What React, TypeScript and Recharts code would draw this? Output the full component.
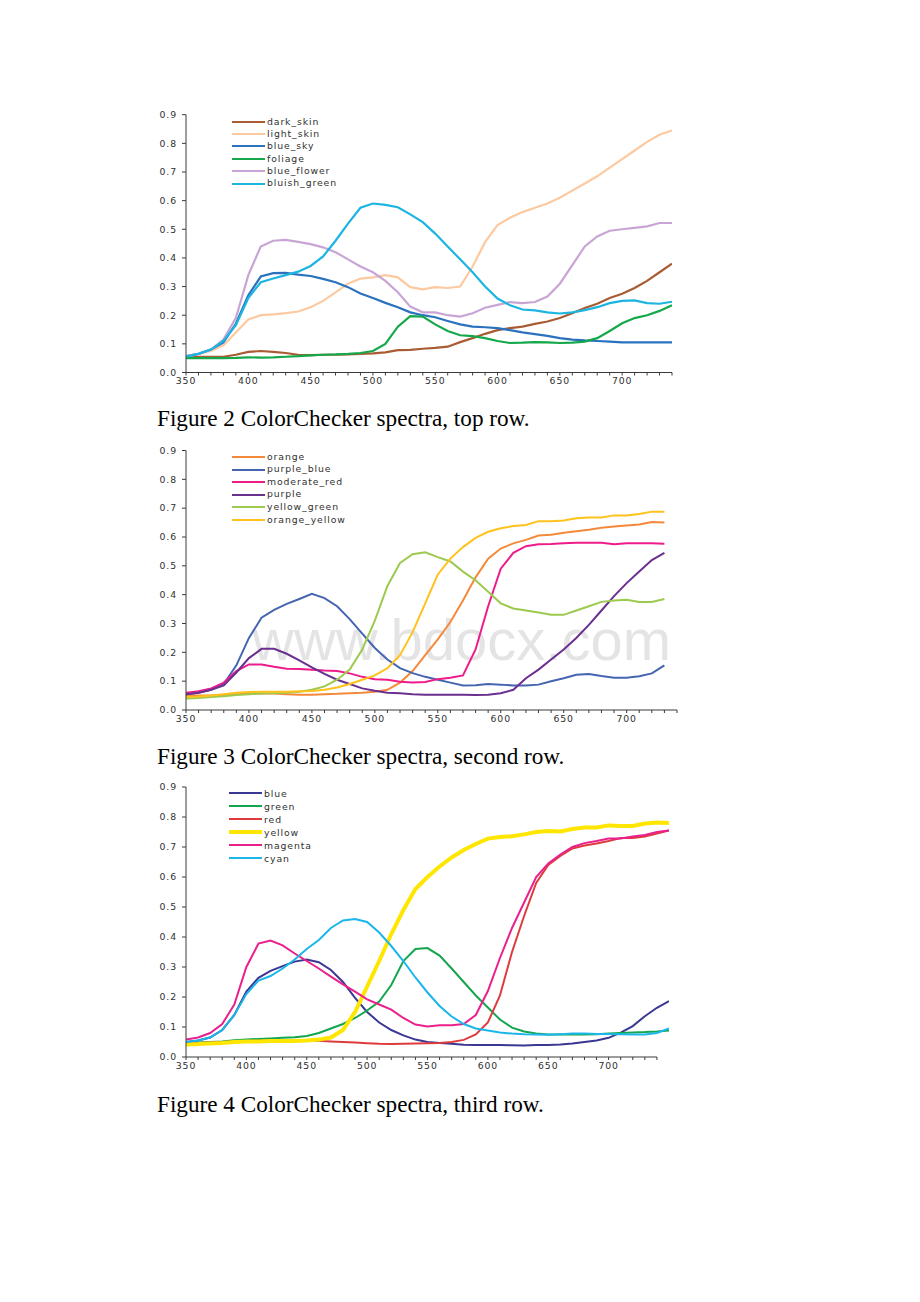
import React from 'react';
import { LineChart, Line, XAxis, YAxis, Legend, ReferenceLine } from 'recharts';

// Wavelengths (nm)
const WAVELENGTHS = [350, 360, 370, 380, 390, 400, 410, 420, 430, 440, 450, 460, 470, 480, 490, 500, 510, 520, 530, 540, 550, 560, 570, 580, 590, 600, 610, 620, 630, 640, 650, 660, 670, 680, 690, 700, 710, 720, 730, 740, 750];
const X_TICKS = [350, 360, 370, 380, 390, 400, 410, 420, 430, 440, 450, 460, 470, 480, 490, 500, 510, 520, 530, 540, 550, 560, 570, 580, 590, 600, 610, 620, 630, 640, 650, 660, 670, 680, 690, 700, 710, 720, 730, 740];
const Y_TICKS = [0, 0.1, 0.2, 0.3, 0.4, 0.5, 0.6, 0.7, 0.8, 0.9];

// Figure 2 – top row (350..740)
const darkSkin = [0.055, 0.055, 0.055, 0.055, 0.062, 0.072, 0.075, 0.072, 0.068, 0.062, 0.061, 0.062, 0.062, 0.063, 0.065, 0.067, 0.07, 0.078, 0.079, 0.083, 0.086, 0.09, 0.106, 0.12, 0.135, 0.148, 0.155, 0.16, 0.17, 0.178, 0.19, 0.207, 0.225, 0.24, 0.26, 0.275, 0.295, 0.32, 0.35, 0.38];
const lightSkin = [0.055, 0.065, 0.075, 0.095, 0.14, 0.185, 0.2, 0.203, 0.207, 0.213, 0.228, 0.25, 0.28, 0.31, 0.328, 0.332, 0.34, 0.332, 0.298, 0.29, 0.298, 0.295, 0.3, 0.37, 0.455, 0.515, 0.54, 0.56, 0.575, 0.59, 0.61, 0.635, 0.66, 0.685, 0.715, 0.745, 0.775, 0.805, 0.83, 0.845];
const blueSky = [0.057, 0.065, 0.08, 0.105, 0.17, 0.27, 0.335, 0.347, 0.348, 0.342, 0.337, 0.327, 0.315, 0.298, 0.276, 0.26, 0.243, 0.228, 0.21, 0.2, 0.193, 0.18, 0.168, 0.16, 0.158, 0.155, 0.148, 0.14, 0.134, 0.128, 0.12, 0.115, 0.112, 0.11, 0.108, 0.105, 0.105, 0.105, 0.105, 0.105];
const foliage = [0.05, 0.05, 0.05, 0.05, 0.051, 0.053, 0.052, 0.053, 0.055, 0.057, 0.06, 0.062, 0.063, 0.065, 0.068, 0.075, 0.1, 0.16, 0.197, 0.195, 0.168, 0.145, 0.13, 0.127, 0.12, 0.11, 0.103, 0.104, 0.106, 0.105, 0.103, 0.104, 0.108, 0.12, 0.145, 0.172, 0.19, 0.2, 0.215, 0.235];
const blueFlower = [0.057, 0.065, 0.08, 0.115, 0.19, 0.34, 0.44, 0.46, 0.463, 0.456, 0.448, 0.437, 0.42, 0.395, 0.37, 0.35, 0.32, 0.28, 0.23, 0.21, 0.21, 0.2, 0.195, 0.207, 0.226, 0.236, 0.246, 0.242, 0.246, 0.265, 0.31, 0.375, 0.44, 0.475, 0.495, 0.5, 0.505, 0.51, 0.522, 0.522];
const bluishGreen = [0.055, 0.065, 0.08, 0.11, 0.165, 0.26, 0.315, 0.328, 0.34, 0.352, 0.372, 0.405, 0.46, 0.52, 0.575, 0.59, 0.585, 0.577, 0.552, 0.525, 0.485, 0.44, 0.395, 0.35, 0.3, 0.258, 0.235, 0.22, 0.217, 0.21, 0.206, 0.21, 0.218, 0.228, 0.242, 0.25, 0.252, 0.242, 0.24, 0.247];

// Figure 3 – second row (350..730)
const orange = [0.05, 0.05, 0.05, 0.052, 0.055, 0.057, 0.057, 0.057, 0.055, 0.053, 0.053, 0.055, 0.056, 0.058, 0.06, 0.063, 0.07, 0.095, 0.135, 0.19, 0.245, 0.305, 0.38, 0.46, 0.525, 0.56, 0.578, 0.59, 0.605, 0.608, 0.615, 0.62, 0.625, 0.632, 0.636, 0.64, 0.643, 0.652, 0.65];
const purpleBlue = [0.055, 0.06, 0.07, 0.09, 0.155, 0.25, 0.32, 0.347, 0.368, 0.385, 0.403, 0.388, 0.36, 0.315, 0.265, 0.215, 0.175, 0.145, 0.128, 0.115, 0.105, 0.095, 0.085, 0.086, 0.09, 0.088, 0.085, 0.085, 0.088, 0.1, 0.11, 0.122, 0.125, 0.118, 0.112, 0.112, 0.117, 0.127, 0.155];
const moderateRed = [0.06, 0.065, 0.075, 0.095, 0.135, 0.158, 0.158, 0.15, 0.143, 0.142, 0.14, 0.137, 0.135, 0.127, 0.115, 0.107, 0.105, 0.098, 0.095, 0.097, 0.107, 0.112, 0.12, 0.21, 0.36, 0.49, 0.545, 0.568, 0.575, 0.576, 0.578, 0.58, 0.58, 0.58, 0.575, 0.578, 0.578, 0.578, 0.577];
const purple = [0.055, 0.06, 0.07, 0.085, 0.13, 0.18, 0.212, 0.212, 0.195, 0.172, 0.148, 0.125, 0.105, 0.09, 0.075, 0.067, 0.06, 0.058, 0.055, 0.053, 0.053, 0.053, 0.053, 0.052, 0.053, 0.058, 0.07, 0.11, 0.14, 0.175, 0.21, 0.25, 0.295, 0.345, 0.395, 0.44, 0.48, 0.52, 0.545];
const yellowGreen = [0.04, 0.042, 0.045, 0.048, 0.052, 0.055, 0.057, 0.058, 0.06, 0.063, 0.07, 0.082, 0.105, 0.14, 0.21, 0.31, 0.43, 0.51, 0.54, 0.547, 0.53, 0.515, 0.48, 0.45, 0.41, 0.37, 0.352, 0.345, 0.338, 0.33, 0.33, 0.345, 0.36, 0.375, 0.38, 0.382, 0.375, 0.375, 0.385];
const orangeYellow = [0.045, 0.047, 0.05, 0.055, 0.06, 0.062, 0.063, 0.063, 0.063, 0.065, 0.066, 0.07, 0.078, 0.09, 0.105, 0.12, 0.145, 0.19, 0.27, 0.37, 0.47, 0.525, 0.565, 0.597, 0.618, 0.63, 0.638, 0.642, 0.655, 0.655, 0.657, 0.665, 0.668, 0.668, 0.675, 0.675, 0.68, 0.688, 0.688];

// Figure 4 – third row (350..750)
const blue = [0.05, 0.055, 0.065, 0.09, 0.14, 0.218, 0.264, 0.287, 0.303, 0.318, 0.325, 0.316, 0.29, 0.25, 0.197, 0.15, 0.115, 0.09, 0.072, 0.058, 0.05, 0.047, 0.044, 0.041, 0.04, 0.04, 0.04, 0.039, 0.038, 0.04, 0.04, 0.042, 0.045, 0.05, 0.055, 0.064, 0.081, 0.103, 0.136, 0.164, 0.186];
const green = [0.045, 0.048, 0.05, 0.052, 0.056, 0.058, 0.06, 0.062, 0.064, 0.066, 0.07, 0.08, 0.095, 0.11, 0.13, 0.155, 0.185, 0.24, 0.32, 0.36, 0.363, 0.338, 0.295, 0.25, 0.205, 0.165, 0.125, 0.098, 0.085, 0.078, 0.075, 0.075, 0.075, 0.075, 0.076, 0.078, 0.08, 0.082, 0.083, 0.085, 0.088];
const red = [0.045, 0.047, 0.048, 0.05, 0.052, 0.053, 0.054, 0.055, 0.055, 0.055, 0.055, 0.054, 0.052, 0.05, 0.048, 0.046, 0.044, 0.043, 0.044, 0.045, 0.046, 0.047, 0.05, 0.057, 0.075, 0.115, 0.205, 0.35, 0.47, 0.58, 0.64, 0.67, 0.695, 0.705, 0.712, 0.72, 0.73, 0.73, 0.735, 0.745, 0.755];
const yellow = [0.042, 0.043, 0.045, 0.047, 0.05, 0.052, 0.052, 0.053, 0.053, 0.053, 0.055, 0.058, 0.065, 0.09, 0.15, 0.235, 0.32, 0.41, 0.49, 0.56, 0.6, 0.635, 0.665, 0.69, 0.71, 0.728, 0.733, 0.736, 0.742, 0.75, 0.753, 0.752, 0.76, 0.765, 0.765, 0.772, 0.77, 0.77, 0.778, 0.782, 0.78];
const magenta = [0.058, 0.065, 0.08, 0.11, 0.175, 0.3, 0.378, 0.388, 0.372, 0.345, 0.32, 0.295, 0.268, 0.242, 0.218, 0.192, 0.175, 0.158, 0.13, 0.108, 0.102, 0.106, 0.106, 0.11, 0.14, 0.22, 0.33, 0.43, 0.515, 0.6, 0.645, 0.675, 0.7, 0.713, 0.72, 0.728, 0.728, 0.735, 0.74, 0.75, 0.755];
const cyan = [0.05, 0.055, 0.065, 0.09, 0.14, 0.21, 0.255, 0.27, 0.295, 0.325, 0.36, 0.39, 0.43, 0.455, 0.46, 0.45, 0.415, 0.37, 0.32, 0.265, 0.215, 0.17, 0.135, 0.11, 0.095, 0.088, 0.082, 0.078, 0.076, 0.075, 0.074, 0.076, 0.078, 0.078, 0.077, 0.077, 0.076, 0.075, 0.075, 0.08, 0.095];

type Series = { key: string; name: string; values: number[]; color: string; width: number };

const SERIES_1: Series[] = [
  { key: 'dark_skin', name: 'dark_skin', values: darkSkin, color: '#a95c34', width: 2.2 },
  { key: 'light_skin', name: 'light_skin', values: lightSkin, color: '#fcc9a0', width: 2.2 },
  { key: 'blue_sky', name: 'blue_sky', values: blueSky, color: '#2a72bd', width: 2.2 },
  { key: 'foliage', name: 'foliage', values: foliage, color: '#14a84a', width: 2.2 },
  { key: 'blue_flower', name: 'blue_flower', values: blueFlower, color: '#c9a5d5', width: 2.2 },
  { key: 'bluish_green', name: 'bluish_green', values: bluishGreen, color: '#1cb5e2', width: 2.2 },
];
const SERIES_2: Series[] = [
  { key: 'orange', name: 'orange', values: orange, color: '#f5893b', width: 2 },
  { key: 'purple_blue', name: 'purple_blue', values: purpleBlue, color: '#4565b1', width: 2 },
  { key: 'moderate_red', name: 'moderate_red', values: moderateRed, color: '#ee1b8b', width: 2 },
  { key: 'purple', name: 'purple', values: purple, color: '#6a2f8f', width: 2 },
  { key: 'yellow_green', name: 'yellow_green', values: yellowGreen, color: '#9dca4e', width: 2 },
  { key: 'orange_yellow', name: 'orange_yellow', values: orangeYellow, color: '#ffc21c', width: 2 },
];
const SERIES_3: Series[] = [
  { key: 'blue', name: 'blue', values: blue, color: '#3a3893', width: 2 },
  { key: 'green', name: 'green', values: green, color: '#14a64f', width: 2 },
  { key: 'red', name: 'red', values: red, color: '#df3b3f', width: 2 },
  { key: 'yellow', name: 'yellow', values: yellow, color: '#ffe600', width: 4 },
  { key: 'magenta', name: 'magenta', values: magenta, color: '#ea208c', width: 2 },
  { key: 'cyan', name: 'cyan', values: cyan, color: '#1bb6ea', width: 2 },
];

const CAPTIONS = [
  'Figure 2 ColorChecker spectra, top row.',
  'Figure 3 ColorChecker spectra, second row.',
  'Figure 4 ColorChecker spectra, third row.',
];

const buildRows = (series: Series[], count: number) =>
  WAVELENGTHS.slice(0, count).map((w, i) => {
    const row: Record<string, number> = { w };
    series.forEach((s) => {
      row[s.key] = s.values[i];
    });
    return row;
  });

const TICK_FONT = { fontFamily: 'DejaVu Sans', fontSize: 9.3, fill: '#303030', letterSpacing: 0.9 };
const AXIS_COLOR = '#3a3a3a';
const WRAP_LEFT = 100;
const WRAP_W = 720;

type ChartProps = {
  series: Series[];
  count: number;
  top: number;
  height: number;
  plotTop: number;
  plotBottom: number;
  plotRight: number;
  xMax: number;
  axisEnd: number;
  legendTop: number;
  legendLeft: number;
  rowH: number;
};

function SpectrumChart(p: ChartProps) {
  const data = buildRows(p.series, p.count);
  const margin = {
    top: p.plotTop - p.top,
    right: WRAP_LEFT + WRAP_W - p.plotRight,
    bottom: p.top + p.height - p.plotBottom - 20,
    left: 46,
  };
  const legendContent = () => (
    <div style={{ display: 'flex', flexDirection: 'column' }}>
      {p.series.map((s) => (
        <div key={s.key} style={{ display: 'flex', alignItems: 'center', height: p.rowH }}>
          <svg width={33} height={6} style={{ display: 'block' }}>
            <line x1={0} y1={3} x2={33} y2={3} stroke={s.color} strokeWidth={s.width} />
          </svg>
          <span
            style={{
              marginLeft: 2,
              fontFamily: 'DejaVu Sans',
              fontSize: 9.3,
              letterSpacing: 0.9,
              color: '#303030',
              lineHeight: `${p.rowH}px`,
              whiteSpace: 'nowrap',
            }}
          >
            {s.name}
          </span>
        </div>
      ))}
    </div>
  );
  return (
    <div style={{ position: 'absolute', left: WRAP_LEFT, top: p.top, width: WRAP_W, height: p.height, zIndex: 1 }}>
      <LineChart width={WRAP_W} height={p.height} data={data} margin={margin}>
        <XAxis
          dataKey="w"
          type="number"
          domain={[350, p.xMax]}
          ticks={X_TICKS}
          interval={0}
          tickFormatter={(v: number) => (v % 50 === 0 ? String(v) : '')}
          tick={TICK_FONT}
          tickSize={3}
          tickMargin={2}
          tickLine={{ stroke: AXIS_COLOR }}
          axisLine={false}
          height={20}
          allowDataOverflow
        />
        <YAxis
          type="number"
          domain={[0, 0.9]}
          ticks={Y_TICKS}
          interval={0}
          tickFormatter={(v: number) => v.toFixed(1)}
          tick={TICK_FONT}
          tickSize={4}
          tickMargin={5}
          tickLine={{ stroke: AXIS_COLOR }}
          axisLine={{ stroke: AXIS_COLOR }}
          width={40}
        />
        <ReferenceLine
          segment={[
            { x: 350, y: 0 },
            { x: p.axisEnd, y: 0 },
          ]}
          stroke={AXIS_COLOR}
          strokeWidth={1}
          ifOverflow="visible"
        />
        <Legend
          layout="vertical"
          align="center"
          verticalAlign="middle"
          content={legendContent}
          wrapperStyle={{ left: p.legendLeft - WRAP_LEFT, top: p.legendTop - p.top, width: 'auto', height: 'auto' }}
        />
        {p.series.map((s) => (
          <Line
            key={s.key}
            type="linear"
            dataKey={s.key}
            name={s.name}
            stroke={s.color}
            strokeWidth={s.width}
            dot={false}
            activeDot={false}
            isAnimationActive={false}
          />
        ))}
      </LineChart>
    </div>
  );
}

const captionStyle = (top: number): React.CSSProperties => ({
  position: 'absolute',
  left: 157,
  top,
  fontFamily: '"Liberation Serif", "Times New Roman", serif',
  fontSize: 23.2,
  lineHeight: '27px',
  color: '#000',
  whiteSpace: 'nowrap',
});

export default function App() {
  return (
    <div style={{ position: 'absolute', left: 0, top: 0, width: 920, height: 1302, background: '#fff' }}>
      <SpectrumChart
        series={SERIES_1}
        count={40}
        top={100}
        height={300}
        plotTop={114.7}
        plotBottom={372.5}
        plotRight={672}
        xMax={740}
        axisEnd={740}
        legendTop={115.5}
        legendLeft={232}
        rowH={12.4}
      />
      <div style={captionStyle(405)}>{CAPTIONS[0]}</div>

      <div
        style={{
          position: 'absolute',
          left: 252,
          top: 611,
          fontFamily: '"Liberation Sans", Arial, sans-serif',
          fontSize: 58,
          lineHeight: '58px',
          color: '#000',
          opacity: 0.1,
          whiteSpace: 'nowrap',
          zIndex: 0,
        }}
      >
        www.bdocx.com
      </div>
      <SpectrumChart
        series={SERIES_2}
        count={39}
        top={435}
        height={300}
        plotTop={450.5}
        plotBottom={710}
        plotRight={677}
        xMax={740}
        axisEnd={740}
        legendTop={450.7}
        legendLeft={232}
        rowH={12.6}
      />
      <div style={captionStyle(743)}>{CAPTIONS[1]}</div>

      <SpectrumChart
        series={SERIES_3}
        count={41}
        top={770}
        height={310}
        plotTop={787}
        plotBottom={1057}
        plotRight={669}
        xMax={750}
        axisEnd={740}
        legendTop={786.5}
        legendLeft={229}
        rowH={13}
      />
      <div style={captionStyle(1091)}>{CAPTIONS[2]}</div>
    </div>
  );
}
